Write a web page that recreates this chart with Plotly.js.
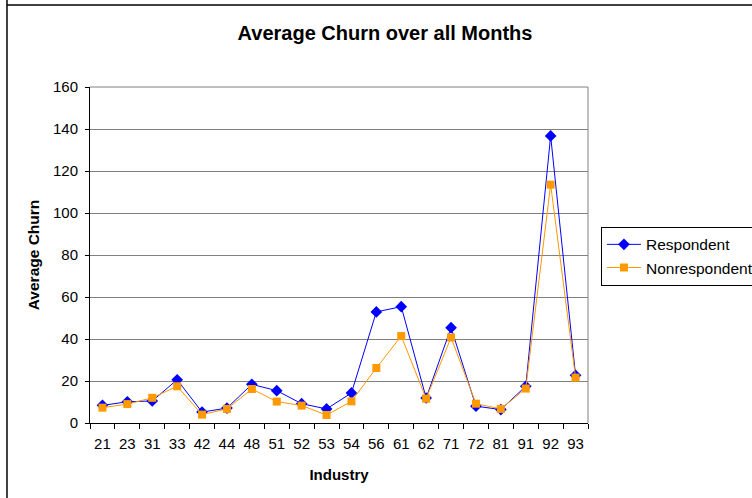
<!DOCTYPE html>
<html><head><meta charset="utf-8">
<script src="https://cdn.plot.ly/plotly-3.0.1.min.js"></script>
<style>html,body{margin:0;padding:0;background:#fff;}#chart{width:752px;height:498px;}</style>
</head><body><div id="chart"></div>
<script>
var industries = ["21","23","31","33","42","44","48","51","52","53","54","56","61","62","71","72","81","91","92","93"];
var respondent = [8.4,10.1,10.5,20.6,5.2,7.1,18.4,15.4,9.2,6.7,14.3,52.9,55.4,11.9,45.4,8,6.4,17.5,136.7,22.7];
var nonrespondent = [7.3,9,12,17.5,4,6.7,16.2,10.2,8.3,3.8,10.3,26.2,41.4,11.6,40.7,9.2,6.7,16.4,113.5,21.6];
var yTicks = [0,20,40,60,80,100,120,140,160];

var font = "Liberation Sans, Arial, sans-serif";
var traces = [
  {x: industries, y: respondent, name: "Respondent", type: "scatter", mode: "lines+markers", legendgroup: "a",
   line: {color: "#0000FF", width: 1}, marker: {symbol: "diamond", size: 9, color: "#0000FF"}},
  {x: industries, y: nonrespondent, name: "Nonrespondent", type: "scatter", mode: "lines+markers", legendgroup: "b",
   line: {color: "#FF9900", width: 1}, marker: {symbol: "square", size: 8, color: "#FF9900"}}
];
var layout = {
  width: 752, height: 498,
  margin: {l: 90, r: 164, t: 87, b: 75, autoexpand: false},
  paper_bgcolor: "#fff", plot_bgcolor: "#fff",
  font: {family: font, size: 15, color: "#000"},
  title: {text: "<b>Average Churn over all Months</b>", font: {family: font, size: 20, color: "#000"},
          x: 385/752, xanchor: "center", xref: "container", y: 1 - 33/498, yanchor: "middle", yref: "container"},
  showlegend: true,
  legend: {x: 1.026, xanchor: "left", y: 0.584, yanchor: "top", bordercolor: "#000", borderwidth: 1,
           bgcolor: "#fff", font: {family: font, size: 15.5, color: "#000"}, traceorder: "grouped",
           tracegroupgap: 0, itemwidth: 34},
  xaxis: {type: "category", tickvals: industries, ticktext: industries, showgrid: false, zeroline: false,
          showline: true, linecolor: "#000", linewidth: 1, ticks: "outside", ticklen: 5, tickcolor: "#000",
          tickson: "boundaries", range: [-0.5, 19.5], tickangle: 0, fixedrange: true, ticklabelstandoff: 7,
          tickfont: {family: font, size: 15, color: "#000"},
          title: {text: "<b>Industry</b>", font: {family: font, size: 15, color: "#000"}, standoff: 18}},
  yaxis: {range: [0, 160], tickvals: yTicks, showgrid: true, gridcolor: "#808080", gridwidth: 1,
          zeroline: false, showline: true, linecolor: "#000", linewidth: 1, ticks: "outside", ticklen: 4,
          tickcolor: "#000", tickfont: {family: font, size: 15, color: "#000"}, ticklabelstandoff: 4,
          title: {text: "<b>Average Churn</b>", font: {family: font, size: 15.5, color: "#000"}, standoff: 9}},
  shapes: [
    {type: "line", xref: "paper", yref: "paper", x0: 1, x1: 1, y0: 0, y1: 1, line: {color: "#808080", width: 1}},
    {type: "line", xref: "paper", yref: "paper", x0: 0, x1: 1, y0: 1, y1: 1, line: {color: "#808080", width: 1}},
    {type: "line", xref: "paper", yref: "paper", x0: -0.1667, x1: -0.1667, y0: 1.3, y1: -0.3, line: {color: "#000", width: 1.5}},
    {type: "line", xref: "paper", yref: "paper", x0: -0.1667, x1: 1.4, y0: 1.244, y1: 1.244, line: {color: "#000", width: 1.5}}
  ]
};
Plotly.newPlot("chart", traces, layout, {displayModeBar: false, staticPlot: true});
</script></body></html>
